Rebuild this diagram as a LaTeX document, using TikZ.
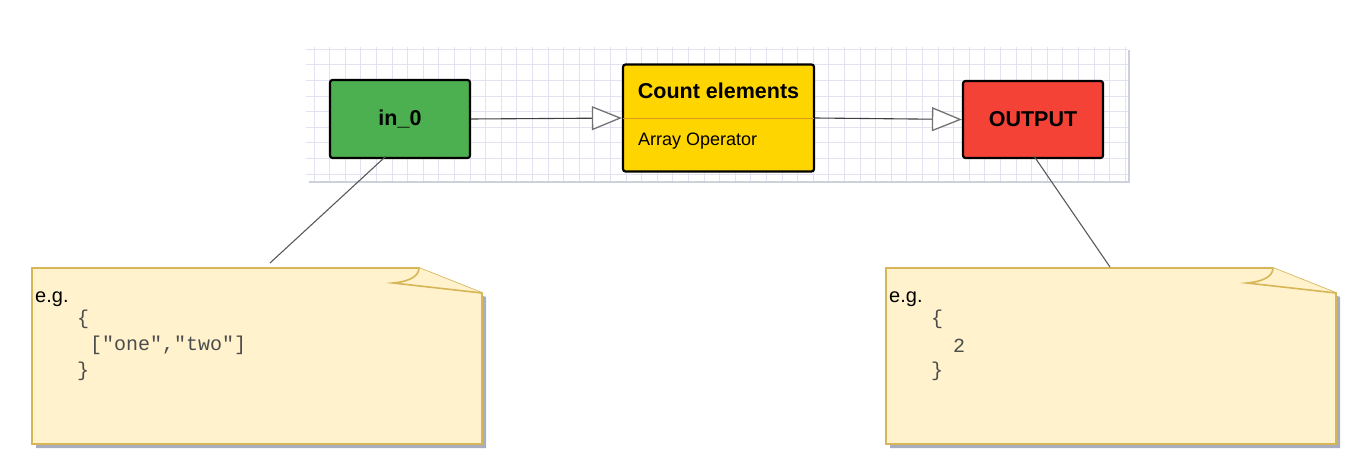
\documentclass[tikz,border=0pt]{standalone}
\usepackage{fontspec}
\setmainfont{Liberation Sans}
\setmonofont{Liberation Mono}
\usetikzlibrary{arrows.meta}

\definecolor{gridline}{HTML}{E2E2F2}
\definecolor{gridShadow}{HTML}{CDD1DC}
\definecolor{inGreen}{HTML}{4CAF50}
\definecolor{opYellow}{HTML}{FFD500}
\definecolor{opLine}{HTML}{D99A1E}
\definecolor{outRed}{HTML}{F44336}
\definecolor{noteFill}{HTML}{FFF2CC}
\definecolor{noteDraw}{HTML}{D6B656}
\definecolor{shadowGray}{HTML}{A8AEC0}

\tikzset{
  block/.style={draw=black, line width=2.2pt, rounded corners=2.5pt,
    inner sep=0pt, font=\fontsize{21.5}{25}\selectfont\bfseries},
  flow/.style={draw=black!75, line width=1.1pt,
    -{Triangle[open, length=30pt, width=24pt, fill=white, line width=1.3pt, color=black!55]}},
  link/.style={draw=black!65, line width=1.1pt},
  note/.style={fill=noteFill, draw=noteDraw, line width=1.6pt, line join=miter},
  egtext/.style={anchor=base west, inner sep=0pt, font=\fontsize{20}{24}\selectfont},
  jsontext/.style={anchor=base west, inner sep=0pt, text=black!70,
    font=\ttfamily\fontsize{20}{24}\selectfont}
}

\begin{document}
\begin{tikzpicture}[x=1pt, y=-1pt]
  \useasboundingbox (0,0) rectangle (1356,465);

  % grid background
  \fill[gridShadow] (309,50) rectangle (1130,183);
  \fill[white] (306,47) rectangle (1128,181);
  \begin{scope}
    \clip (306,47) rectangle (1128,181);
    \foreach \i in {0,...,52} {
      \draw[gridline, line width=0.9pt] ({314+15.6*\i},47) -- ({314+15.6*\i},181);
    }
    \foreach \j in {0,...,8} {
      \draw[gridline, line width=0.9pt] (306,{49.3+15.6*\j}) -- (1128,{49.3+15.6*\j});
    }
  \end{scope}

  % blocks
  \node[block, fill=inGreen, minimum width=140pt, minimum height=78pt]
    (in0) at (400,119) {in\_0};
  \node[block, fill=opYellow, minimum width=191pt, minimum height=107pt]
    (count) at (718.5,118) {};
  \node[block, fill=outRed, minimum width=140pt, minimum height=77pt]
    (output) at (1033,119.5) {OUTPUT};
  \draw[opLine, line width=0.9pt]
    ([xshift=1.2pt]count.west) -- ([xshift=-1.2pt]count.east);
  \node[anchor=base, inner sep=0pt, font=\fontsize{21.5}{25}\selectfont\bfseries]
    (countTitle) at (718.5,99) {Count elements};
  \node[anchor=base west, inner sep=0pt, font=\fontsize{18}{22}\selectfont]
    (countType) at (638,146) {Array Operator};

  % flows
  \draw[flow] (in0.east) -- (count.west);
  \draw[flow] (count.east) -- (output.west);

  % left note
  \fill[shadowGray] (36,272) -- (423,272) -- (486,297) -- (486,448) -- (36,448) -- cycle;
  \draw[note] (32,268) -- (419,268) -- (482,293) -- (482,444) -- (32,444) -- cycle;
  \draw[note] (419,268) .. controls (419,278) and (405,282) .. (393,283) -- (482,293);
  \node[egtext] (egIn) at (35,302) {e.g.};
  \node[jsontext] (inOpen) at (77,324) {\{};
  \node[jsontext] (inBody) at (90,350) {["one","two"]};
  \node[jsontext] (inClose) at (77,376) {\}};

  % right note
  \fill[shadowGray] (890,272) -- (1277,272) -- (1340,297) -- (1340,448) -- (890,448) -- cycle;
  \draw[note] (886,268) -- (1273,268) -- (1336,293) -- (1336,444) -- (886,444) -- cycle;
  \draw[note] (1273,268) .. controls (1273,278) and (1259,282) .. (1247,283) -- (1336,293);
  \node[egtext] (egOut) at (889,302) {e.g.};
  \node[jsontext] (outOpen) at (931,324) {\{};
  \node[jsontext] (outBody) at (953,352) {2};
  \node[jsontext] (outClose) at (931,376) {\}};

  % note links
  \coordinate (inTip) at (270,263);
  \coordinate (outTip) at (1110,267);
  \draw[link] ([xshift=-14pt,yshift=3pt]in0.south) -- (inTip);
  \draw[link] ([xshift=1pt,yshift=3pt]output.south) -- (outTip);
\end{tikzpicture}
\end{document}
